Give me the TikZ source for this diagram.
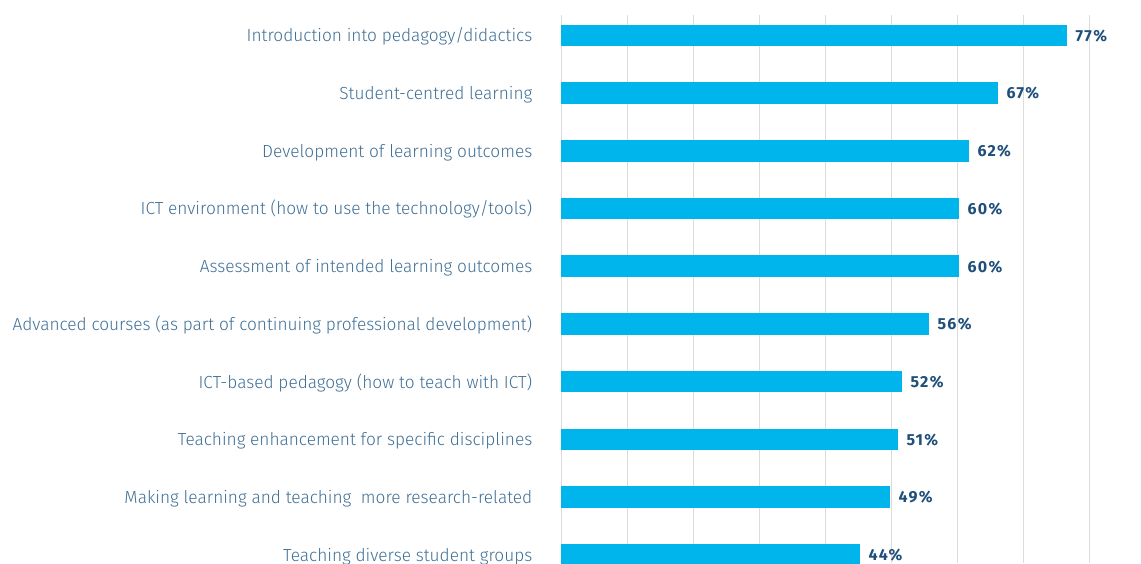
\documentclass[tikz,border=0pt]{standalone}
\usepackage{fontspec}
\setmainfont{Fira Sans}
\newfontfamily\labfont{Fira Sans Light}[FakeStretch=0.986]
\newfontfamily\valfont{Fira Sans}[LetterSpace=8]
\definecolor{barc}{HTML}{00B5EB}
\definecolor{labc}{HTML}{3F6F95}
\definecolor{valc}{HTML}{1F4F7A}
\definecolor{gridc}{HTML}{DCDCDC}
\tikzset{
  gridline/.style={draw=gridc, line width=1pt},
  barbox/.style={fill=barc, inner sep=0pt, minimum height=21.6pt, anchor=west},
  lab/.style={text=labc, font=\labfont\fontsize{17.5}{20}\selectfont, inner sep=0pt, anchor=base east},
  val/.style={text=valc, font=\valfont\bfseries\fontsize{16}{18}\selectfont, inner sep=0pt, anchor=base west}
}
\begin{document}
\begin{tikzpicture}[x=1pt,y=-1pt]
\useasboundingbox (0,0) rectangle (1141,563);
\clip (0,0) rectangle (1141,563);
\foreach \k in {0,...,8} {
  \coordinate (gt\k) at (561+66.1*\k,15);
  \coordinate (gb\k) at (561+66.1*\k,563);
  \draw[gridline] (gt\k) -- (gb\k);
}
\foreach \i/\t/\e/\v in {
  1/{Introduction into pedagogy/didactics}/1067/77,
  2/{Student-centred learning}/998/67,
  3/{Development of learning outcomes}/969/62,
  4/{ICT environment (how to use the technology/tools)}/959/60,
  5/{Assessment of intended learning outcomes}/959/60,
  6/{Advanced courses (as part of continuing professional development)}/929/56,
  7/{ICT-based pedagogy (how to teach with ICT)}/902/52,
  8/{Teaching enhancement for specific disciplines}/898/51,
  9/{Making learning and teaching\ \ more research-related}/890/49,
  10/{Teaching diverse student groups}/860/44} {
  \pgfmathsetmacro{\c}{35.4+57.7*(\i-1)}
  \pgfmathsetmacro{\w}{\e-561}
  \node[barbox, minimum width=\w pt] (b\i) at (561,\c) {};
  \node[lab] (l\i) at (532.5,\c+6.4) {\t};
  \node[val] (v\i) at ([xshift=8pt,yshift=-5.8pt]b\i.east) {\v\%};
}
\end{tikzpicture}
\end{document}
